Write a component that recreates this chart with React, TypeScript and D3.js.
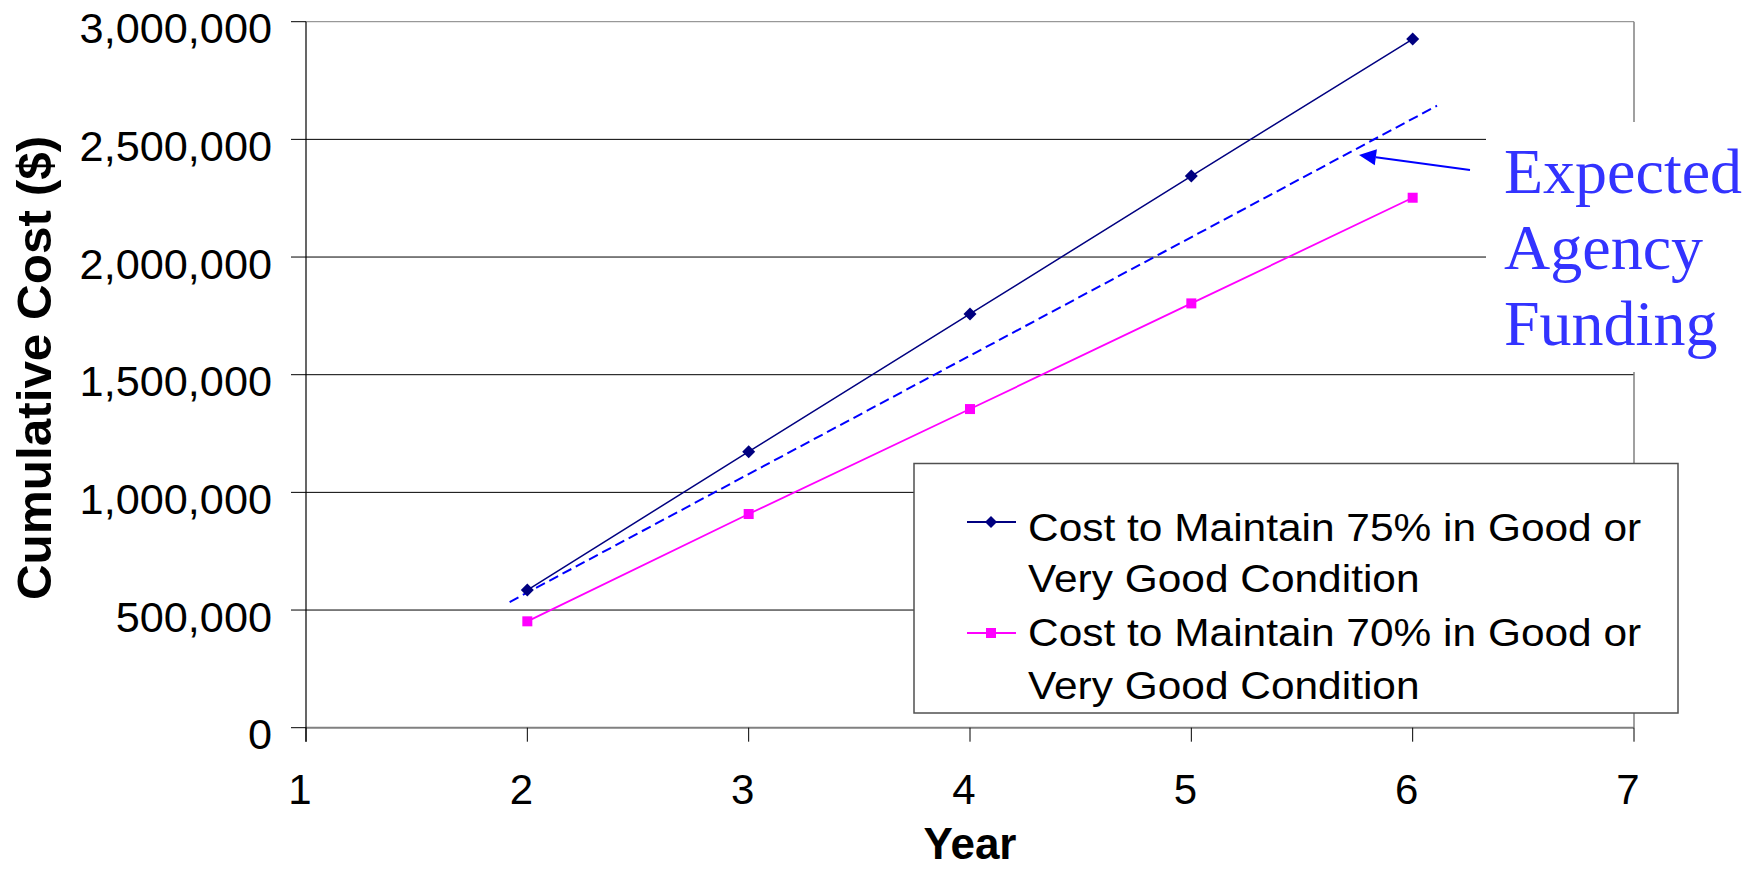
import React from "react";
import * as d3 from "d3";

const years = [2, 3, 4, 5, 6];
const cost75 = [585000, 1173000, 1758000, 2344000, 2926000];
const cost70 = [452000, 908000, 1354000, 1803000, 2252000];
const fundingYears = [1.92, 6.11];
const fundingValues = [534000, 2643000];
const xTicks = [1, 2, 3, 4, 5, 6, 7];
const yTicks = [0, 500000, 1000000, 1500000, 2000000, 2500000, 3000000];
const legendLabels = [
  ["Cost to Maintain 75% in Good or", "Very Good Condition"],
  ["Cost to Maintain 70% in Good or", "Very Good Condition"],
];
const annotationLines = ["Expected", "Agency", "Funding"];

const W = 1764;
const H = 869;
const SANS = "'Liberation Sans', Arial, sans-serif";
const SERIF = "'Liberation Serif', 'Times New Roman', serif";

export default function App() {
  const x = d3.scaleLinear().domain([1, 7]).range([306, 1634]);
  const y = d3.scaleLinear().domain([0, 3000000]).range([727.7, 21.7]);
  const fmt = d3.format(",");

  const line = d3
    .line<number>()
    .x((_, i) => x(years[i]))
    .y((d) => y(d));

  const fundingLine = d3
    .line<number>()
    .x((_, i) => x(fundingYears[i]))
    .y((d) => y(d));

  const x0 = x(1);
  const x1 = x(7);
  const yBottom = y(0);
  const yTop = y(3000000);

  const diamond = (cx: number, cy: number, r: number) =>
    `M${cx},${cy - r}L${cx + r},${cy}L${cx},${cy + r}L${cx - r},${cy}Z`;

  const lg = { x: 914, y: 463.5, w: 764, h: 249.5 };
  const legendItems = [
    { color: "#000080", marker: "diamond", lineY: 522, baselines: [540.5, 592] },
    { color: "#FF00FF", marker: "square", lineY: 633, baselines: [646, 699] },
  ];

  const arrowStart = [1470, 170];
  const arrowTip = [1359, 155];
  const ang = Math.atan2(arrowTip[1] - arrowStart[1], arrowTip[0] - arrowStart[0]);
  const headLen = 17;
  const headHalf = 8;
  const bx = arrowTip[0] - headLen * Math.cos(ang);
  const by = arrowTip[1] - headLen * Math.sin(ang);
  const px = -Math.sin(ang) * headHalf;
  const py = Math.cos(ang) * headHalf;

  return (
    <svg
      width={W}
      height={H}
      style={{ position: "absolute", left: 0, top: 0, background: "#fff" }}
    >
      <rect x={0} y={0} width={W} height={H} fill="#fff" />
      {yTicks.map((t) => (
        <line
          key={"g" + t}
          x1={x0}
          x2={x1}
          y1={y(t)}
          y2={y(t)}
          stroke={t === 0 || t === 3000000 ? "#808080" : "#000"}
          strokeWidth={t === 0 ? 2 : 1}
        />
      ))}
      <line x1={x1} x2={x1} y1={yTop} y2={yBottom} stroke="#808080" strokeWidth={1.5} />
      <line x1={x0} x2={x0} y1={yTop} y2={yBottom + 14} stroke="#000" strokeWidth={1.2} />
      {yTicks.map((t) => (
        <g key={"yt" + t}>
          <line x1={x0 - 15} x2={x0} y1={y(t)} y2={y(t)} stroke="#000" strokeWidth={1} />
          <text
            transform={`translate(272,${y(t) + 21.5}) scale(1.03,1)`}
            textAnchor="end"
            fontFamily={SANS}
            fontSize={42}
            fill="#000"
          >
            {fmt(t)}
          </text>
        </g>
      ))}
      {xTicks.map((t) => (
        <g key={"xt" + t}>
          <line x1={x(t)} x2={x(t)} y1={yBottom} y2={yBottom + 14} stroke="#000" strokeWidth={1} />
          <text
            x={x(t) - 6}
            y={804}
            textAnchor="middle"
            fontFamily={SANS}
            fontSize={42}
            fill="#000"
          >
            {t}
          </text>
        </g>
      ))}
      <text
        x={970}
        y={859}
        textAnchor="middle"
        fontFamily={SANS}
        fontWeight="bold"
        fontSize={44}
        fill="#000"
      >
        Year
      </text>
      <text
        transform={`translate(51,368) rotate(-90) scale(1.03,1)`}
        textAnchor="middle"
        fontFamily={SANS}
        fontWeight="bold"
        fontSize={48}
        fill="#000"
      >
        Cumulative Cost ($)
      </text>

      <path
        d={fundingLine(fundingValues) || ""}
        fill="none"
        stroke="#0000FF"
        strokeWidth={2}
        strokeDasharray="10,5"
      />
      <path d={line(cost75) || ""} fill="none" stroke="#000080" strokeWidth={1.5} />
      <path d={line(cost70) || ""} fill="none" stroke="#FF00FF" strokeWidth={1.8} />
      {cost75.map((v, i) => (
        <path key={"d" + i} d={diamond(x(years[i]), y(v), 6.5)} fill="#000080" />
      ))}
      {cost70.map((v, i) => (
        <rect key={"s" + i} x={x(years[i]) - 5} y={y(v) - 5} width={10} height={10} fill="#FF00FF" />
      ))}

      <rect x={1486} y={122} width={278} height={250} fill="#fff" />
      {annotationLines.map((s, i) => (
        <text
          key={s}
          x={1504}
          y={193 + i * 76}
          fontFamily={SERIF}
          fontSize={64}
          fill="#3333FF"
        >
          {s}
        </text>
      ))}
      <line
        x1={arrowStart[0]}
        y1={arrowStart[1]}
        x2={bx}
        y2={by}
        stroke="#0000FF"
        strokeWidth={2}
      />
      <path
        d={`M${arrowTip[0]},${arrowTip[1]}L${bx + px},${by + py}L${bx - px},${by - py}Z`}
        fill="#0000FF"
      />

      <rect x={lg.x} y={lg.y} width={lg.w} height={lg.h} fill="#fff" stroke="#505050" strokeWidth={1.5} />
      {legendItems.map((it, i) => (
        <g key={"lg" + i}>
          <line x1={967} x2={1016} y1={it.lineY} y2={it.lineY} stroke={it.color} strokeWidth={1.8} />
          {it.marker === "diamond" ? (
            <path d={diamond(991, it.lineY, 6)} fill={it.color} />
          ) : (
            <rect x={986} y={it.lineY - 5} width={10} height={10} fill={it.color} />
          )}
          {legendLabels[i].map((s, j) => (
            <text
              key={j}
              transform={`translate(1028,${it.baselines[j]}) scale(1.088,1)`}
              fontFamily={SANS}
              fontSize={39}
              fill="#000"
            >
              {s}
            </text>
          ))}
        </g>
      ))}
    </svg>
  );
}
